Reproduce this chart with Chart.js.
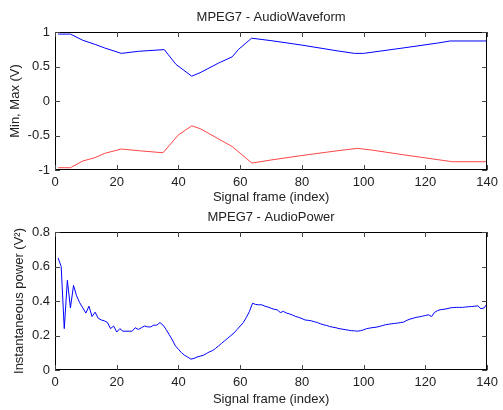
<!DOCTYPE html>
<html>
<head>
<meta charset="utf-8">
<script src="https://cdn.jsdelivr.net/npm/chart.js@4.4.0/dist/chart.umd.min.js"></script>
<style>
  body { margin: 0; background: #fff; }
  .box { position: absolute; left: 0; width: 503px; }
</style>
</head>
<body>
<div class="box" style="top:0;height:210px"><canvas id="wave-chart" width="503" height="210"></canvas></div>
<div class="box" style="top:210px;height:200px"><canvas id="power-chart" width="503" height="200"></canvas></div>
<script>
// values
const maxFrames = [1, 5, 9, 13, 16, 21.5, 27, 35.4, 39.2, 44.3, 47, 53, 57.4, 59.5, 63.7, 70, 80, 91.7, 97, 100, 113, 124, 128, 140];
const maxValues = [0.97, 0.97, 0.88, 0.82, 0.77, 0.69, 0.72, 0.745, 0.53, 0.36, 0.41, 0.55, 0.64, 0.75, 0.91, 0.875, 0.81, 0.725, 0.69, 0.69, 0.77, 0.84, 0.87, 0.87];

const minFrames = [1, 5, 9, 13, 16, 21.5, 27, 35, 40, 44.3, 47, 57.4, 63.8, 70, 80, 91.7, 98, 102.4, 113, 128.7, 140];
const minValues = [-0.967, -0.967, -0.87, -0.82, -0.76, -0.696, -0.72, -0.75, -0.49, -0.36, -0.40, -0.66, -0.90, -0.855, -0.79, -0.72, -0.686, -0.71, -0.78, -0.88, -0.88];

const powerFrames = [];
for (let i = 1; i <= 140; i++) powerFrames.push(i);
const powerValues = [
  0.65, 0.60, 0.24, 0.52, 0.36, 0.49, 0.43, 0.39, 0.36, 0.33,
  0.37, 0.31, 0.335, 0.30, 0.29, 0.285, 0.275, 0.24, 0.255, 0.22,
  0.24, 0.225, 0.225, 0.225, 0.225, 0.245, 0.235, 0.245, 0.255, 0.25,
  0.25, 0.26, 0.26, 0.275, 0.26, 0.235, 0.205, 0.175, 0.14, 0.12,
  0.10, 0.085, 0.075, 0.063, 0.067, 0.075, 0.08, 0.085, 0.095, 0.105,
  0.112, 0.125, 0.14, 0.155, 0.17, 0.185, 0.20, 0.215, 0.235, 0.255,
  0.275, 0.305, 0.34, 0.387, 0.38, 0.378, 0.378, 0.37, 0.365, 0.358,
  0.352, 0.349, 0.333, 0.34, 0.33, 0.325, 0.318, 0.31, 0.305, 0.298,
  0.29, 0.288, 0.285, 0.28, 0.275, 0.268, 0.262, 0.258, 0.252, 0.248,
  0.245, 0.24, 0.237, 0.234, 0.231, 0.228, 0.227, 0.225, 0.228, 0.233,
  0.24, 0.243, 0.246, 0.248, 0.252, 0.257, 0.262, 0.265, 0.268, 0.27,
  0.272, 0.275, 0.278, 0.288, 0.295, 0.30, 0.305, 0.308, 0.312, 0.316,
  0.32, 0.31, 0.335, 0.345, 0.35, 0.352, 0.355, 0.36, 0.362, 0.363,
  0.363, 0.363, 0.365, 0.367, 0.368, 0.37, 0.372, 0.355, 0.36, 0.383
];

const FONT = { family: '"Liberation Sans", Arial, sans-serif', size: 13 };
const TEXT = '#222';

function pts(xs, ys) {
  return xs.map((x, i) => ({ x: x, y: ys[i] }));
}

// box round the plot area with inward ticks on all four sides, plus title
const framePlugin = {
  id: 'frame',
  afterDraw(chart, args, opts) {
    const { ctx, chartArea: a, scales } = chart;
    ctx.save();
    ctx.strokeStyle = '#000';
    ctx.lineWidth = 1;
    ctx.strokeRect(Math.round(a.left) + 0.5, Math.round(a.top) + 0.5, Math.round(a.right - a.left) - 1, Math.round(a.bottom - a.top) - 1);
    ctx.strokeStyle = '#444';
    ctx.beginPath();
    scales.x.ticks.forEach(t => {
      const px = Math.round(scales.x.getPixelForValue(t.value)) + 0.5;
      ctx.moveTo(px, a.top); ctx.lineTo(px, a.top + 5);
      ctx.moveTo(px, a.bottom); ctx.lineTo(px, a.bottom - 5);
    });
    scales.y.ticks.forEach(t => {
      const py = Math.round(scales.y.getPixelForValue(t.value)) + 0.5;
      ctx.moveTo(a.left, py); ctx.lineTo(a.left + 5, py);
      ctx.moveTo(a.right, py); ctx.lineTo(a.right - 5, py);
    });
    ctx.stroke();
    ctx.fillStyle = TEXT;
    ctx.font = FONT.size + 'px ' + FONT.family;
    ctx.textAlign = 'center';
    ctx.textBaseline = 'middle';
    ctx.fillText(opts.text, (a.left + a.right) / 2, opts.y);
    ctx.restore();
  }
};

function makeChart(canvas, datasets, padTop, yMin, yMax, yStep, yTitle, yTitlePad, xTitlePad, titleText, titleY) {
  return new Chart(canvas.getContext('2d'), {
    type: 'line',
    data: { datasets: datasets },
    options: {
      responsive: false,
      animation: false,
      layout: { padding: { left: 0, right: 13, top: padTop, bottom: 0 } },
      plugins: {
        legend: { display: false },
        tooltip: { enabled: false },
        frame: { text: titleText, y: titleY }
      },
      elements: { point: { radius: 0 }, line: { borderWidth: 1, tension: 0 } },
      scales: {
        x: {
          type: 'linear',
          min: 0, max: 140,
          ticks: { stepSize: 20, color: TEXT, font: FONT, padding: 5, maxRotation: 0 },
          grid: { display: false, drawTicks: false },
          border: { display: false },
          title: { display: true, text: 'Signal frame (index)', color: TEXT, font: FONT, padding: { top: 0, bottom: xTitlePad } },
          afterFit: s => { s.height = 40; }
        },
        y: {
          min: yMin, max: yMax,
          ticks: { stepSize: yStep, color: TEXT, font: FONT, padding: 5, callback: v => String(Math.round(v * 10) / 10) },
          grid: { display: false, drawTicks: false },
          border: { display: false },
          title: { display: true, text: yTitle, color: TEXT, font: FONT, padding: { top: yTitlePad, bottom: 0 } },
          afterFit: s => { s.width = 55; }
        }
      }
    },
    plugins: [framePlugin]
  });
}

makeChart(document.querySelector('#wave-chart'), [
  { data: pts(maxFrames, maxValues), borderColor: 'rgb(0,0,255)' },
  { data: pts(minFrames, minValues), borderColor: 'rgb(255,70,70)' }
], 32, -1, 1, 0.5, 'Min, Max (V)', 7.2, 5.2, 'MPEG7 - AudioWaveform', 17);

makeChart(document.querySelector('#power-chart'), [
  { data: pts(powerFrames, powerValues), borderColor: 'rgb(0,0,255)' }
], 22, 0, 0.8, 0.2, 'Instantaneous power (V\u00b2)', 11.2, 3.2, 'MPEG7 - AudioPower', 7);
</script>
</body>
</html>
